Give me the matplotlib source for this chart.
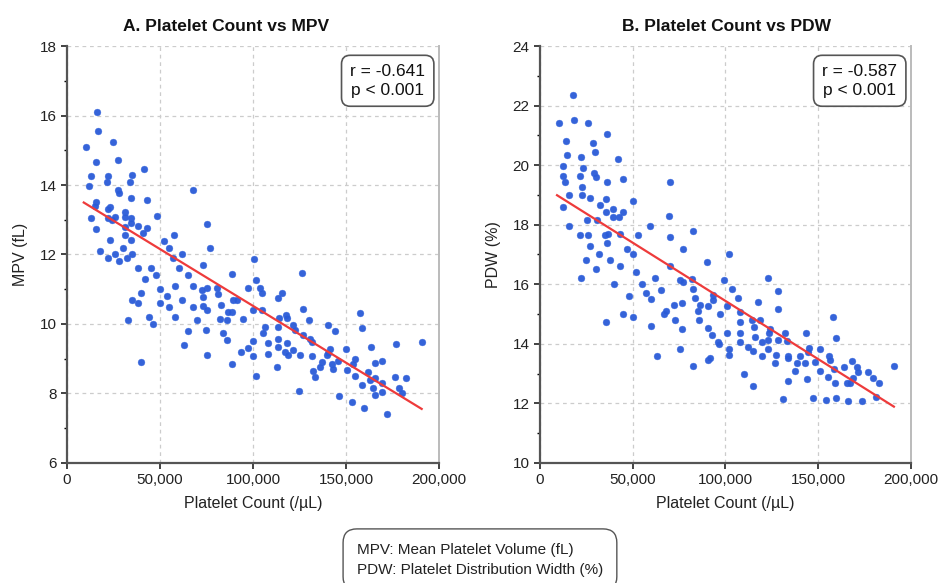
import numpy as np
import matplotlib
matplotlib.use("Agg")
import matplotlib.pyplot as plt
from matplotlib.ticker import FuncFormatter, AutoMinorLocator

plt.rcParams["font.family"] = ["Liberation Sans", "DejaVu Sans"]

# panel A: platelet count vs MPV
mpv_count = [
    16000, 16800, 24600, 10000, 15800, 27200, 41200, 12700, 21900, 35100,
    12000, 21700, 33900, 27400, 28000, 67600, 34400, 43200, 15400, 14900,
    23100, 22200, 48500, 12700, 21900, 31200, 31200, 34400, 24000, 26000,
    34400, 75100, 38300, 43200, 15600, 31200, 40700, 57700, 31200, 23100,
    34400,
    76900, 72900, 100500, 88700, 126200, 101400, 97100, 103800, 104700, 115400,
    113600, 75100, 72400, 80500, 81300, 72900, 89400, 91600, 82600, 72900,
    88500, 86700, 75100, 100200, 104700, 126700, 82300, 85900, 94800, 114100,
    117700, 118100, 130300, 74600, 84000, 106400, 105500, 113600, 121700, 122600,
    140500, 144100, 157500, 158800, 85900, 100200, 113600, 127000, 130600, 131500,
    108200, 118100, 97500, 113600, 121700, 75100, 93400, 100200, 108200, 117200,
    119000, 125300, 131500, 141400, 139600, 140500, 149800, 163400, 176900, 190700,
    154800, 153900, 165600, 169200, 88900, 112700, 136900, 136000, 132400, 133300,
    142300, 142800, 145900, 150400, 154800, 162000, 162900, 158400, 165600, 169200,
    176300, 182200, 164700, 169200, 165600, 178600, 179900, 101600, 124700, 146400,
    153400, 159800, 172200,
    18000, 22000, 26000, 28000, 30000, 32000, 35000, 38000, 42000, 45000,
    48000, 52000, 55000, 57000, 60000, 62000, 65000, 68000, 50000, 54000,
    58000, 62000, 35000, 38000, 40000, 44000, 46000, 50000, 55000, 58000,
    65000, 63000, 68000, 70000, 33000, 40000,
]
mpv_value = [
    16.09, 15.56, 15.24, 15.08, 14.66, 14.72, 14.46, 14.25, 14.27, 14.30,
    13.98, 14.08, 14.10, 13.87, 13.78, 13.86, 13.62, 13.58, 13.50, 13.40,
    13.36, 13.31, 13.12, 13.05, 13.04, 13.21, 13.07, 13.05, 12.98, 13.07,
    12.90, 12.88, 12.83, 12.75, 12.72, 12.80, 12.61, 12.55, 12.55, 12.42,
    12.42,
    12.18, 11.70, 11.88, 11.43, 11.47, 11.27, 11.04, 11.04, 10.90, 10.90,
    10.76, 11.04, 10.99, 11.04, 10.87, 10.77, 10.68, 10.68, 10.56, 10.51,
    10.34, 10.34, 10.39, 10.39, 10.39, 10.42, 10.15, 10.12, 10.15, 10.18,
    10.25, 10.18, 10.12, 9.82, 9.75, 9.91, 9.74, 9.91, 9.96, 9.84,
    9.98, 9.80, 10.31, 9.87, 9.55, 9.50, 9.58, 9.67, 9.58, 9.48,
    9.44, 9.45, 9.31, 9.35, 9.26, 9.10, 9.19, 9.07, 9.13, 9.19,
    9.10, 9.10, 9.07, 9.29, 9.10, 9.15, 9.29, 9.34, 9.41, 9.48,
    9.00, 8.86, 8.89, 8.94, 8.86, 8.76, 8.91, 8.76, 8.65, 8.48,
    8.86, 8.69, 8.93, 8.67, 8.50, 8.62, 8.38, 8.24, 8.43, 8.30,
    8.48, 8.45, 8.17, 8.05, 7.95, 8.17, 8.00, 8.51, 8.07, 7.92,
    7.76, 7.57, 7.41,
    12.1, 11.9, 12.0, 11.8, 12.2, 11.9, 12.0, 11.6, 11.3, 11.6,
    11.4, 12.4, 12.2, 11.9, 11.6, 12.0, 11.4, 11.1, 11.0, 10.8,
    11.1, 10.7, 10.7, 10.6, 10.9, 10.2, 10.0, 10.6, 10.5, 10.2,
    9.8, 9.4, 10.5, 10.1, 10.1, 8.9,
]
mpv_fit = (-3.27e-5, 13.79)  # slope, intercept of regression line
mpv_stat = "r = -0.641\np < 0.001"

# panel B: platelet count vs PDW
pdw_count = [
    17600, 10200, 18200, 26000, 36100, 13800, 28700, 29800, 14700, 22100,
    41900, 12600, 23400, 12400, 21600, 29100, 30200, 44600, 13600, 35900,
    22500, 70100, 15800, 22500, 27000, 35600, 50000, 32300, 12600, 39200,
    35600, 44900, 42700, 39500, 69700, 30900, 25200, 15800, 59300, 82300,
    21600, 26000, 35000, 36800, 53000, 70100, 43100,
    76900, 90200, 102000, 75500, 76900, 81800, 99300, 123100, 82600, 83500,
    103300, 128100, 93400, 93400, 106900, 117700, 76400, 86200, 90700, 100600,
    128500, 85300, 85700, 97000, 107800, 114100, 118600, 115300, 158100, 107800,
    76400, 90700, 124000, 92500, 100600, 107800, 115900, 119500, 123600, 123100,
    128500, 132100, 133000, 143200, 159400, 75500, 96100, 96600, 107800, 112300,
    115000, 102000, 102000, 119500, 123100, 127200, 126700, 133500, 133800, 140100,
    138400, 137400, 145000, 144600, 142800, 143700, 148200, 150900, 150900, 155800,
    156300, 155400, 158500, 159000, 164000, 168000, 170700, 171600, 165300, 167100,
    168900, 177000, 179300, 182700, 190800, 82300, 90700, 91600, 110000, 114600,
    133800, 130800, 147300, 154000, 159400, 165800, 173400, 181100,
    22000, 25000, 27000, 30000, 32000, 36000, 38000, 40000, 43000, 47000,
    50000, 52000, 55000, 57000, 60000, 62000, 65000, 67000, 70000, 72000,
    45000, 48000, 50000, 60000, 63000, 68000, 73000, 35600,
]
pdw_value = [
    22.36, 21.43, 21.50, 21.40, 21.03, 20.80, 20.76, 20.44, 20.33, 20.26,
    20.21, 19.96, 19.92, 19.65, 19.65, 19.74, 19.59, 19.54, 19.45, 19.45,
    19.28, 19.42, 19.00, 19.00, 18.89, 18.87, 18.81, 18.65, 18.58, 18.53,
    18.44, 18.42, 18.27, 18.27, 18.28, 18.17, 18.17, 17.97, 17.97, 17.80,
    17.64, 17.64, 17.64, 17.69, 17.64, 17.58, 17.69,
    17.19, 16.74, 17.00, 16.13, 16.07, 16.19, 16.15, 16.21, 15.85, 15.55,
    15.85, 15.76, 15.63, 15.46, 15.54, 15.40, 15.37, 15.29, 15.26, 15.27,
    15.18, 15.09, 14.79, 15.01, 15.07, 14.79, 14.81, 14.57, 14.90, 14.73,
    14.51, 14.53, 14.51, 14.29, 14.35, 14.35, 14.23, 14.06, 14.35, 14.12,
    14.12, 14.35, 14.10, 14.35, 14.18, 13.84, 14.06, 13.99, 14.06, 13.90,
    13.75, 13.81, 13.62, 13.58, 13.81, 13.62, 13.36, 13.58, 13.51, 13.58,
    13.34, 13.09, 13.86, 13.73, 13.34, 12.81, 13.39, 13.84, 13.09, 13.60,
    13.45, 12.89, 13.14, 12.67, 13.21, 13.43, 13.23, 13.06, 12.69, 12.67,
    12.84, 13.06, 12.84, 12.69, 13.25, 13.25, 13.45, 13.51, 12.97, 12.59,
    12.75, 12.13, 12.17, 12.11, 12.17, 12.08, 12.08, 12.22,
    16.2, 16.8, 17.3, 16.5, 17.0, 17.4, 16.8, 16.0, 16.6, 17.2,
    17.0, 16.4, 16.0, 15.7, 15.5, 16.2, 15.8, 15.0, 16.6, 15.3,
    15.0, 15.6, 14.9, 14.6, 13.6, 15.1, 14.8, 14.72,
]
pdw_fit = (-3.91e-5, 19.35)
pdw_stat = "r = -0.587\np < 0.001"

panels = [
    ("A. Platelet Count vs MPV", "MPV (fL)", mpv_count, mpv_value, mpv_fit, (6, 18), mpv_stat),
    ("B. Platelet Count vs PDW", "PDW (%)", pdw_count, pdw_value, pdw_fit, (10, 24), pdw_stat),
]

fig = plt.figure(figsize=(9.44, 5.83), dpi=100)
rects = [[0.071, 0.206, 0.394, 0.715], [0.572, 0.206, 0.393, 0.715]]
title_x = [0.24, 0.77]

for rect, tx, (title, ylab, xs, ys, fit, ylim, stat) in zip(rects, title_x, panels):
    ax = fig.add_axes(rect)
    xs = np.array(xs)
    ys = np.array(ys)
    ax.scatter(xs, ys, s=24, color="#2a5bd7", edgecolors="#3a6ae0",
               linewidths=0.3, alpha=0.95, zorder=3)
    lx = np.array([xs.min() - 1000, xs.max()])
    ax.plot(lx, fit[0] * lx + fit[1], color="#ee3b3b", lw=1.6, zorder=4)

    ax.set_xlim(0, 200000)
    ax.set_ylim(*ylim)
    ax.set_xticks(np.arange(0, 200001, 50000))
    ax.set_yticks(np.arange(ylim[0], ylim[1] + 1, 2))
    ax.yaxis.set_minor_locator(AutoMinorLocator(2))
    ax.xaxis.set_major_formatter(FuncFormatter(lambda v, p: f"{int(v):,}"))
    ax.tick_params(labelsize=11, colors="#222222", length=4, width=1.2)
    ax.tick_params(which="minor", length=2.5, width=1)
    ax.grid(True, ls=(0, (3, 3)), color="#cccccc", lw=0.9)
    ax.set_axisbelow(True)
    for side in ["left", "bottom"]:
        ax.spines[side].set_color("#555555")
        ax.spines[side].set_linewidth(1.6)
    ax.spines["top"].set_visible(False)
    ax.spines["right"].set_color("#bbbbbb")
    ax.spines["right"].set_linewidth(1.4)

    ax.set_xlabel("Platelet Count (/µL)", fontsize=11.5, color="#222222", labelpad=6)
    ax.set_ylabel(ylab, fontsize=11.5, color="#222222", labelpad=8)
    fig.text(tx, 0.955, title, ha="center", va="center", fontsize=12.5,
             fontweight="bold", color="#111111")
    ax.text(0.963, 0.957, stat, transform=ax.transAxes, ha="right", va="top",
            multialignment="center", fontsize=12.5, color="#111111", linespacing=1.3,
            zorder=6,
            bbox=dict(boxstyle="round,pad=0.5", fc="white", ec="#555555", lw=1.2))

fig.text(0.378, 0.04, "MPV: Mean Platelet Volume (fL)\nPDW: Platelet Distribution Width (%)",
         ha="left", va="center", fontsize=11, color="#222222", linespacing=1.55,
         bbox=dict(boxstyle="round,pad=0.9", fc="white", ec="#555555", lw=1.0))

fig.savefig("out.png", dpi=100, facecolor="white")
